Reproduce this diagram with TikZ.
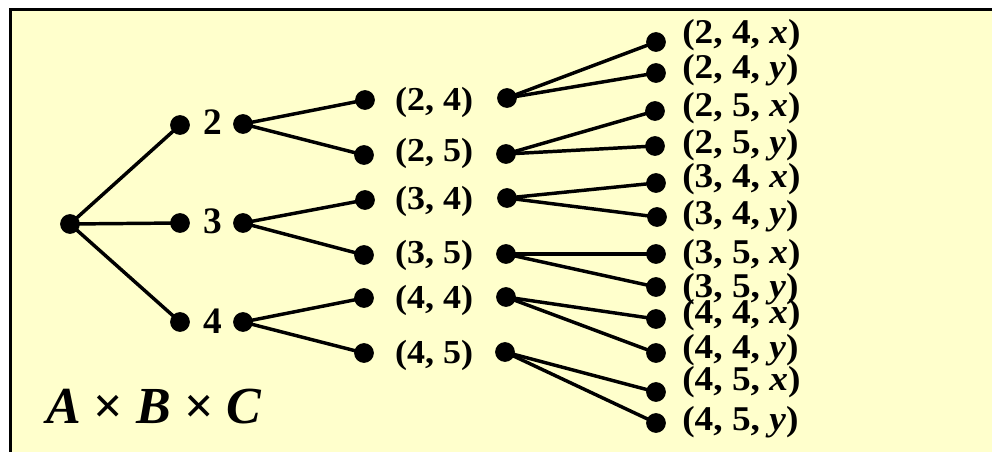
\documentclass[tikz,border=0pt]{standalone}
\usepackage{fontspec}
\setmainfont{Liberation Serif}
\definecolor{bg}{HTML}{FFFFCC}
\newcommand{\sq}[1]{\scalebox{1}[0.93]{#1}}
\begin{document}
\begin{tikzpicture}[x=0.75pt,y=-0.75pt,
  dot/.style={circle,fill=black,inner sep=0pt,minimum size=14.8pt},
  conn/.style={line width=2.6pt},
  labone/.style={anchor=base,inner sep=0pt,font=\bfseries\fontsize{28}{30}\selectfont},
  labtwo/.style={anchor=base,inner sep=0pt,font=\bfseries\fontsize{27}{30}\selectfont},
  labthree/.style={anchor=base west,inner sep=0pt,font=\bfseries\fontsize{28}{30}\selectfont},
  prodlab/.style={anchor=base west,inner sep=0pt,font=\bfseries\itshape\fontsize{39}{42}\selectfont}]
\useasboundingbox (0,0) rectangle (992,452);
\fill[white] (0,0) rectangle (992,452);
\draw[fill=bg,line width=1.9pt] (10.3,9.5) rectangle (1010,470);
% root
\node[dot] (r) at (70,224) {};
% level 1
\node[dot] (a2) at (180,125) {};
\node[dot] (a3) at (180,223) {};
\node[dot] (a4) at (180,322) {};
\node[labone] (l2) at (213,135) {2};
\node[labone] (l3) at (213,234) {3};
\node[labone] (l4) at (213,333) {4};
\node[dot] (b2) at (243,124) {};
\node[dot] (b3) at (243,223) {};
\node[dot] (b4) at (243,322) {};
% level 2
\node[dot] (p24) at (365,100) {};
\node[dot] (p25) at (364,155) {};
\node[dot] (p34) at (365,200) {};
\node[dot] (p35) at (364,255) {};
\node[dot] (p44) at (364,298) {};
\node[dot] (p45) at (364,353) {};
\node[labtwo] (m24) at (434,111) {\sq{(2, 4)}};
\node[labtwo] (m25) at (434,162) {\sq{(2, 5)}};
\node[labtwo] (m34) at (434,210) {\sq{(3, 4)}};
\node[labtwo] (m35) at (434,263) {\sq{(3, 5)}};
\node[labtwo] (m44) at (434,308) {\sq{(4, 4)}};
\node[labtwo] (m45) at (434,363) {\sq{(4, 5)}};
\node[dot] (q24) at (507,98) {};
\node[dot] (q25) at (506,154) {};
\node[dot] (q34) at (507,198) {};
\node[dot] (q35) at (506,254) {};
\node[dot] (q44) at (506,297) {};
\node[dot] (q45) at (505,352) {};
% level 3
\node[dot] (t24x) at (656,42) {};
\node[dot] (t24y) at (656,73) {};
\node[dot] (t25x) at (655,111) {};
\node[dot] (t25y) at (655,146) {};
\node[dot] (t34x) at (656,183) {};
\node[dot] (t34y) at (657,217) {};
\node[dot] (t35x) at (656,254) {};
\node[dot] (t35y) at (656,287) {};
\node[dot] (t44x) at (656,319) {};
\node[dot] (t44y) at (656,353) {};
\node[dot] (t45x) at (656,392) {};
\node[dot] (t45y) at (656,423) {};
\node[labthree] (n24x) at (682,44) {\sq{(2, 4, \textit{x})}};
\node[labthree] (n24y) at (682,79) {\sq{(2, 4, \textit{y})}};
\node[labthree] (n25x) at (682,117) {\sq{(2, 5, \textit{x})}};
\node[labthree] (n25y) at (682,154) {\sq{(2, 5, \textit{y})}};
\node[labthree] (n34x) at (682,188) {\sq{(3, 4, \textit{x})}};
\node[labthree] (n34y) at (682,225) {\sq{(3, 4, \textit{y})}};
\node[labthree] (n35x) at (682,263) {\sq{(3, 5, \textit{x})}};
\node[labthree] (n35y) at (682,297) {\sq{(3, 5, \textit{y})}};
\node[labthree] (n44x) at (682,323) {\sq{(4, 4, \textit{x})}};
\node[labthree] (n44y) at (682,358) {\sq{(4, 4, \textit{y})}};
\node[labthree] (n45x) at (682,390) {\sq{(4, 5, \textit{x})}};
\node[labthree] (n45y) at (682,430) {\sq{(4, 5, \textit{y})}};
% product label
\node[prodlab] (abc) at (46,423) {A {\upshape ×} B {\upshape ×} C};
% connectors
\draw[conn] (r.center) -- (a2.center);
\draw[conn] (r.center) -- (a3.center);
\draw[conn] (r.center) -- (a4.center);
\draw[conn] (b2.center) -- (p24.center);
\draw[conn] (b2.center) -- (p25.center);
\draw[conn] (b3.center) -- (p34.center);
\draw[conn] (b3.center) -- (p35.center);
\draw[conn] (b4.center) -- (p44.center);
\draw[conn] (b4.center) -- (p45.center);
\draw[conn] (q24.center) -- (t24x.center);
\draw[conn] (q24.center) -- (t24y.center);
\draw[conn] (q25.center) -- (t25x.center);
\draw[conn] (q25.center) -- (t25y.center);
\draw[conn] (q34.center) -- (t34x.center);
\draw[conn] (q34.center) -- (t34y.center);
\draw[conn] (q35.center) -- (t35x.center);
\draw[conn] (q35.center) -- (t35y.center);
\draw[conn] (q44.center) -- (t44x.center);
\draw[conn] (q44.center) -- (t44y.center);
\draw[conn] (q45.center) -- (t45x.center);
\draw[conn] (q45.center) -- (t45y.center);
\end{tikzpicture}
\end{document}
